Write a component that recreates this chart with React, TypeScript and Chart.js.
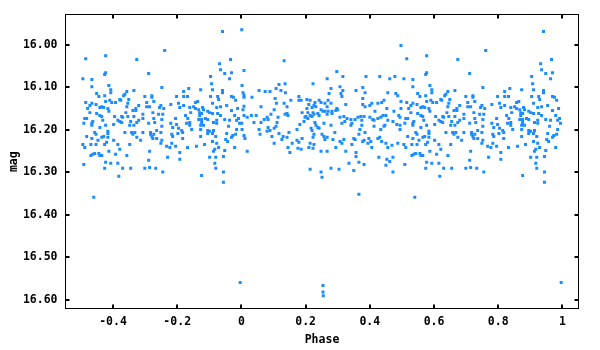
import React, { useEffect, useRef } from "react";
import { Chart, registerables } from "chart.js";

Chart.register(...registerables);

// Unique phase values (0..1) and magnitudes.
const phase = [
  0.001, 0.133, 0.008, 0.002, 0.117, 0.136, 0.005, 0.108, 0.123, 0.137, 0.008, 0.008, 0.055, 0.074, 0.089, 0.033,
  0.154, 0.105, 0.109, 0.133, 0.142, 0.061, 0.005, 0.102, 0.008, 0.092, 0.136, 0.142, 0.145, 0.008, 0.018, 0.031,
  0.046, 0.080, 0.071, 0.083, 0.114, 0.001, 0.039, 0.061, 0.111, 0.108, 0.083, 0.102, 0.089, 0.080, 0.055, 0.002,
  0.148, 0.117, 0.058, 0.008, 0.011, 0.095, 0.130, 0.142, 0.126, 0.158, 0.102, 0.145, 0.151, 0.018,
  0.297, 0.267, 0.316, 0.223, 0.279, 0.307, 0.316, 0.273, 0.310, 0.313, 0.179, 0.179, 0.186, 0.204, 0.214, 0.242,
  0.248, 0.270, 0.229, 0.226, 0.210, 0.260, 0.267, 0.279, 0.325, 0.204, 0.220, 0.232, 0.248, 0.260, 0.282, 0.270,
  0.294, 0.297, 0.300, 0.189, 0.207, 0.223, 0.238, 0.254, 0.214, 0.201, 0.198, 0.207, 0.220, 0.226, 0.242, 0.267,
  0.282, 0.307, 0.319, 0.195, 0.182, 0.229, 0.232, 0.238, 0.242, 0.257, 0.279, 0.313, 0.322, 0.173, 0.217, 0.220,
  0.291, 0.226, 0.251, 0.257, 0.267, 0.260, 0.223, 0.189, 0.173, 0.179, 0.285, 0.307, 0.313, 0.319, 0.214, 0.226,
  0.210, 0.223, 0.176, 0.186, 0.248, 0.267, 0.294, 0.325, 0.214, 0.248, 0.279, 0.304, 0.251,
  0.497, 0.388, 0.431, 0.462, 0.478, 0.378, 0.357, 0.385, 0.456, 0.481, 0.487, 0.378, 0.497, 0.378, 0.406, 0.425,
  0.437, 0.444, 0.385, 0.400, 0.453, 0.497, 0.416, 0.475, 0.441, 0.450, 0.434, 0.425, 0.490, 0.494, 0.329, 0.341,
  0.354, 0.363, 0.372, 0.382, 0.400, 0.409, 0.413, 0.375, 0.456, 0.472, 0.344, 0.341, 0.375, 0.413, 0.444, 0.447,
  0.484, 0.494, 0.369, 0.434, 0.494, 0.385, 0.366, 0.350, 0.354, 0.382, 0.378, 0.397, 0.394, 0.403, 0.425, 0.431,
  0.437, 0.450, 0.487, 0.469, 0.344, 0.456, 0.406, 0.357, 0.357, 0.428, 0.472, 0.453, 0.462, 0.450, 0.472, 0.366,
  0.382, 0.335, 0.350, 0.366,
  0.515, 0.577, 0.577, 0.574, 0.506, 0.534, 0.534, 0.587, 0.593, 0.593, 0.665, 0.643, 0.637, 0.633, 0.549, 0.556,
  0.574, 0.649, 0.621, 0.624, 0.590, 0.577, 0.596, 0.608, 0.515, 0.534, 0.528, 0.547, 0.521, 0.559, 0.565, 0.571,
  0.643, 0.646, 0.584, 0.587, 0.662, 0.640, 0.549, 0.528, 0.512, 0.518, 0.559, 0.565, 0.605, 0.627, 0.630, 0.646,
  0.665, 0.615, 0.621, 0.568, 0.537, 0.602, 0.627, 0.655, 0.509, 0.534, 0.534, 0.652, 0.665, 0.559, 0.577, 0.543,
  0.547, 0.584, 0.584, 0.637, 0.658, 0.662, 0.518, 0.534, 0.565, 0.571, 0.584, 0.602, 0.553, 0.506, 0.512, 0.531,
  0.547, 0.574, 0.580, 0.615, 0.652, 0.621, 0.587, 0.556, 0.543, 0.537, 0.531, 0.559, 0.565, 0.608, 0.643, 0.577,
  0.593, 0.615, 0.574, 0.630, 0.655, 0.509, 0.618, 0.540,
  0.761, 0.674, 0.711, 0.752, 0.820, 0.699, 0.721, 0.721, 0.798, 0.820, 0.832, 0.727, 0.705, 0.804, 0.780, 0.680,
  0.705, 0.714, 0.749, 0.745, 0.758, 0.671, 0.671, 0.808, 0.820, 0.724, 0.693, 0.742, 0.755, 0.826, 0.680, 0.674,
  0.693, 0.727, 0.795, 0.752, 0.711, 0.730, 0.780, 0.798, 0.829, 0.752, 0.786, 0.804, 0.736, 0.814, 0.817, 0.668,
  0.693, 0.717, 0.717, 0.727, 0.749, 0.783, 0.786, 0.802, 0.674, 0.724, 0.736, 0.686, 0.721, 0.752, 0.817, 0.749,
  0.783, 0.767, 0.777, 0.795, 0.832, 0.714, 0.808, 0.770, 0.711, 0.808, 0.699, 0.714, 0.733, 0.755,
  0.941, 0.966, 0.932, 0.935, 0.969, 0.948, 0.963, 0.904, 0.907, 0.836, 0.873, 0.910, 0.941, 0.941, 0.904, 0.926,
  0.929, 0.969, 0.975, 0.982, 0.864, 0.857, 0.910, 0.954, 0.923, 0.935, 0.988, 0.839, 0.851, 0.857, 0.867, 0.879,
  0.882, 0.895, 0.901, 0.910, 0.969, 0.842, 0.870, 0.876, 0.979, 0.926, 0.935, 0.833, 0.870, 0.867, 0.876, 0.888,
  0.895, 0.923, 0.948, 0.963, 0.985, 0.991, 0.839, 0.839, 0.876, 0.873, 0.882, 0.913, 0.923, 0.960, 0.994, 0.845,
  0.873, 0.895, 0.913, 0.901, 0.985, 0.895, 0.910, 0.954, 0.982, 0.973, 0.873, 0.920, 0.969, 0.951, 0.957, 0.910,
  0.923, 0.885, 0.860, 0.929, 0.979, 0.917, 0.913, 0.948, 0.901, 0.920, 0.944, 0.917, 0.920, 0.944, 0.876, 0.944,
  0.254, 0.254, 0.255, 0.996,
];

const mag = [
  15.965, 16.038, 16.061, 16.096, 16.094, 16.092, 16.113, 16.103, 16.108, 16.113, 16.119, 16.124, 16.108, 16.110, 16.110, 16.124,
  16.131, 16.127, 16.138, 16.138, 16.146, 16.146, 16.153, 16.153, 16.145, 16.164, 16.164, 16.162, 16.167, 16.167, 16.171, 16.167,
  16.167, 16.171, 16.176, 16.176, 16.171, 16.185, 16.183, 16.183, 16.183, 16.192, 16.195, 16.197, 16.202, 16.204, 16.200, 16.200,
  16.207, 16.209, 16.211, 16.214, 16.221, 16.216, 16.216, 16.218, 16.223, 16.232, 16.232, 16.242, 16.254, 16.251,
  16.063, 16.080, 16.075, 16.092, 16.103, 16.099, 16.108, 16.115, 16.115, 16.122, 16.122, 16.131, 16.131, 16.129, 16.131, 16.131,
  16.136, 16.131, 16.136, 16.143, 16.141, 16.138, 16.146, 16.138, 16.141, 16.150, 16.148, 16.146, 16.153, 16.157, 16.157, 16.157,
  16.155, 16.150, 16.153, 16.160, 16.160, 16.160, 16.162, 16.157, 16.167, 16.169, 16.171, 16.174, 16.169, 16.164, 16.167, 16.164,
  16.162, 16.171, 16.169, 16.181, 16.188, 16.183, 16.190, 16.195, 16.197, 16.185, 16.190, 16.185, 16.181, 16.200, 16.197, 16.202,
  16.207, 16.211, 16.211, 16.216, 16.218, 16.223, 16.218, 16.221, 16.225, 16.230, 16.223, 16.228, 16.232, 16.223, 16.232, 16.235,
  16.242, 16.244, 16.244, 16.246, 16.251, 16.251, 16.242, 16.251, 16.293, 16.300, 16.291, 16.293, 16.312,
  16.002, 16.075, 16.075, 16.080, 16.075, 16.101, 16.108, 16.113, 16.113, 16.115, 16.120, 16.127, 16.134, 16.141, 16.138, 16.138,
  16.136, 16.131, 16.146, 16.143, 16.150, 16.150, 16.157, 16.157, 16.167, 16.167, 16.171, 16.174, 16.167, 16.171, 16.174, 16.176,
  16.176, 16.171, 16.169, 16.169, 16.171, 16.176, 16.178, 16.178, 16.178, 16.181, 16.185, 16.190, 16.190, 16.192, 16.192, 16.190,
  16.188, 16.190, 16.200, 16.200, 16.200, 16.207, 16.211, 16.221, 16.223, 16.225, 16.228, 16.221, 16.232, 16.228, 16.221, 16.218,
  16.228, 16.232, 16.232, 16.237, 16.235, 16.242, 16.242, 16.254, 16.263, 16.265, 16.265, 16.270, 16.275, 16.284, 16.300, 16.277,
  16.282, 16.279, 16.296, 16.352,
  16.033, 16.026, 16.066, 16.070, 16.080, 16.082, 16.099, 16.096, 16.106, 16.113, 16.108, 16.110, 16.117, 16.120, 16.115, 16.122,
  16.120, 16.129, 16.129, 16.131, 16.131, 16.134, 16.136, 16.136, 16.136, 16.138, 16.143, 16.141, 16.150, 16.148, 16.146, 16.148,
  16.146, 16.138, 16.150, 16.157, 16.155, 16.160, 16.162, 16.160, 16.174, 16.174, 16.167, 16.169, 16.169, 16.169, 16.171, 16.169,
  16.169, 16.178, 16.181, 16.178, 16.181, 16.188, 16.183, 16.181, 16.185, 16.185, 16.190, 16.190, 16.190, 16.195, 16.190, 16.207,
  16.211, 16.204, 16.209, 16.207, 16.207, 16.211, 16.216, 16.221, 16.218, 16.216, 16.218, 16.225, 16.225, 16.235, 16.242, 16.235,
  16.235, 16.235, 16.230, 16.235, 16.235, 16.246, 16.251, 16.256, 16.256, 16.258, 16.261, 16.261, 16.261, 16.258, 16.261, 16.277,
  16.279, 16.279, 16.291, 16.291, 16.291, 16.282, 16.310, 16.359,
  16.014, 16.035, 16.068, 16.101, 16.110, 16.122, 16.120, 16.124, 16.122, 16.122, 16.122, 16.134, 16.136, 16.138, 16.141, 16.143,
  16.146, 16.146, 16.143, 16.148, 16.150, 16.150, 16.155, 16.148, 16.143, 16.160, 16.164, 16.164, 16.164, 16.167, 16.178, 16.183,
  16.174, 16.174, 16.174, 16.176, 16.185, 16.183, 16.185, 16.188, 16.185, 16.192, 16.195, 16.197, 16.202, 16.202, 16.207, 16.207,
  16.207, 16.207, 16.211, 16.211, 16.207, 16.211, 16.216, 16.209, 16.218, 16.221, 16.221, 16.225, 16.216, 16.225, 16.221, 16.232,
  16.232, 16.239, 16.242, 16.239, 16.242, 16.251, 16.254, 16.265, 16.272, 16.270, 16.291, 16.289, 16.291, 16.300,
  15.969, 16.035, 16.045, 16.059, 16.066, 16.068, 16.080, 16.075, 16.092, 16.103, 16.106, 16.106, 16.108, 16.113, 16.122, 16.122,
  16.129, 16.122, 16.124, 16.131, 16.134, 16.136, 16.138, 16.143, 16.148, 16.146, 16.150, 16.148, 16.146, 16.150, 16.153, 16.148,
  16.153, 16.157, 16.160, 16.162, 16.155, 16.160, 16.160, 16.162, 16.167, 16.162, 16.167, 16.174, 16.167, 16.176, 16.176, 16.174,
  16.176, 16.178, 16.176, 16.178, 16.178, 16.174, 16.183, 16.190, 16.183, 16.190, 16.190, 16.183, 16.185, 16.192, 16.185, 16.200,
  16.200, 16.202, 16.202, 16.204, 16.200, 16.209, 16.209, 16.209, 16.211, 16.214, 16.216, 16.216, 16.218, 16.223, 16.228, 16.228,
  16.232, 16.235, 16.239, 16.242, 16.242, 16.246, 16.251, 16.249, 16.265, 16.265, 16.263, 16.279, 16.291, 16.300, 16.308, 16.324,
  16.567, 16.582, 16.591, 16.560,
];

const xTicks = [-0.4, -0.2, 0, 0.2, 0.4, 0.6, 0.8, 1];
const yTicks = [16.0, 16.1, 16.2, 16.3, 16.4, 16.5, 16.6];
const X_MIN = -0.548;
const X_MAX = 1.05;
const Y_MIN = 15.93;
const Y_MAX = 16.621;
const POINT_COLOR = "#1a8cff";
const FONT = { family: '"DejaVu Sans Mono", monospace', weight: "bold" as const, size: 11.5 };

const framePlugin = {
  id: "frame",
  afterDatasetsDraw(chart: any) {
    const { ctx, chartArea: a, scales } = chart;
    const L = Math.floor(a.left) + 0.5;
    const R = Math.floor(a.right) + 0.5;
    const T = Math.floor(a.top) + 0.5;
    const B = Math.floor(a.bottom) + 0.5;
    ctx.save();
    ctx.strokeStyle = "#000";
    ctx.lineWidth = 1;
    ctx.strokeRect(L, T, R - L, B - T);
    ctx.lineWidth = 2;
    const len = 4;
    ctx.beginPath();
    xTicks.forEach((v) => {
      const px = Math.round(scales.x.getPixelForValue(v));
      ctx.moveTo(px, B);
      ctx.lineTo(px, B - len);
      ctx.moveTo(px, T);
      ctx.lineTo(px, T + len);
    });
    yTicks.forEach((v) => {
      const py = Math.round(scales.y.getPixelForValue(v));
      ctx.moveTo(L, py);
      ctx.lineTo(L + len, py);
      ctx.moveTo(R, py);
      ctx.lineTo(R - len, py);
    });
    ctx.stroke();
    ctx.restore();
  },
};

export default function App() {
  const ref = useRef<HTMLCanvasElement | null>(null);

  useEffect(() => {
    if (!ref.current) return;
    const pts: { x: number; y: number }[] = [];
    phase.forEach((p, i) => {
      pts.push({ x: p, y: mag[i] });
      if (p >= 0.5) pts.push({ x: p - 1, y: mag[i] });
    });

    const chart = new Chart(ref.current, {
      type: "scatter",
      data: {
        datasets: [
          {
            data: pts,
            pointStyle: "rect",
            pointRadius: 2.12,
            pointHoverRadius: 2.12,
            borderWidth: 0,
            backgroundColor: POINT_COLOR,
            borderColor: POINT_COLOR,
          },
        ],
      },
      options: {
        animation: false,
        responsive: false,
        maintainAspectRatio: false,
        layout: { padding: { top: 13.5, right: 21.5, left: 0, bottom: 0 } },
        plugins: { legend: { display: false }, tooltip: { enabled: false } },
        scales: {
          x: {
            type: "linear",
            min: X_MIN,
            max: X_MAX,
            grid: { display: false, drawTicks: false },
            border: { display: false },
            afterBuildTicks: (s: any) => {
              s.ticks = xTicks.map((v) => ({ value: v }));
            },
            afterFit: (s: any) => {
              s.height = 41.5;
            },
            ticks: {
              autoSkip: false,
              maxRotation: 0,
              padding: 7,
              color: "#000",
              font: FONT,
              callback: (v: any) => {
                const n = Number(v);
                return Number.isInteger(n) ? String(n) : n.toFixed(1);
              },
            },
            title: { display: true, text: "Phase", color: "#000", font: FONT, padding: { top: 0, bottom: 3 } },
          },
          y: {
            type: "linear",
            reverse: true,
            min: Y_MIN,
            max: Y_MAX,
            grid: { display: false, drawTicks: false },
            border: { display: false },
            afterBuildTicks: (s: any) => {
              s.ticks = yTicks.map((v) => ({ value: v }));
            },
            afterFit: (s: any) => {
              s.width = 65.5;
            },
            ticks: {
              autoSkip: false,
              padding: 8,
              color: "#000",
              font: FONT,
              callback: (v: any) => Number(v).toFixed(2),
            },
            title: { display: true, text: "mag", color: "#000", font: FONT, padding: { top: 7, bottom: 0 } },
          },
        },
      },
      plugins: [framePlugin],
    });
    return () => chart.destroy();
  }, []);

  return (
    <div style={{ position: "absolute", left: 0, top: 0, width: 600, height: 350, background: "#fff" }}>
      <canvas ref={ref} width={600} height={350} style={{ width: 600, height: 350, display: "block" }} />
    </div>
  );
}
